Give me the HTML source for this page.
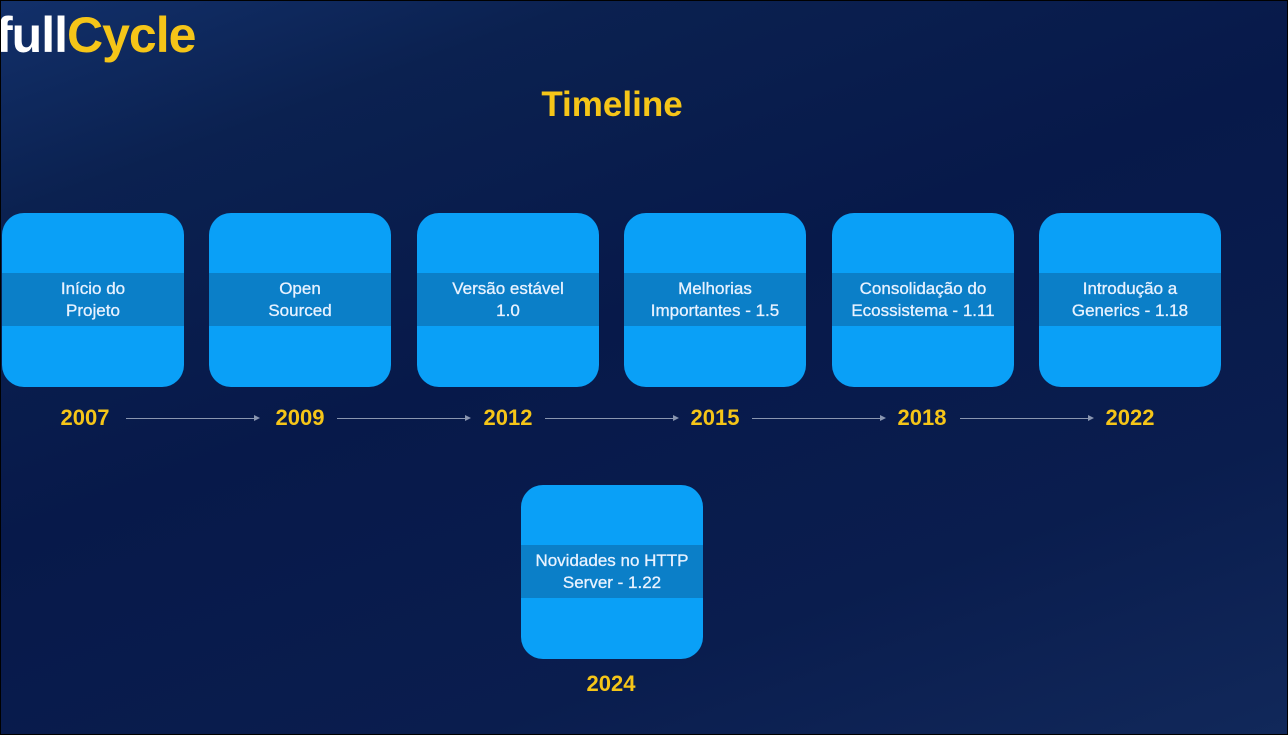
<!DOCTYPE html>
<html><head><meta charset="utf-8">
<style>
html,body{margin:0;padding:0}
body{width:1288px;height:735px;overflow:hidden;position:relative;font-family:"Liberation Sans",sans-serif;
background:linear-gradient(160deg,#12306a 0%,#0b2150 18%,#07194a 45%,#0a1d4e 75%,#11285a 100%);}
.frame{position:absolute;left:0;top:0;width:1286px;height:733px;border:1px solid #000}
.logo{position:absolute;left:-4px;top:6px;font-size:50px;font-weight:bold;color:#fff;letter-spacing:-1px}
.logo span{color:#f5c518}
.title{position:absolute;left:0;width:1224px;top:85px;text-align:center;font-size:35px;font-weight:bold;color:#f5c518}
.box{position:absolute;width:182px;height:174px;border-radius:22px;background:#0aa0f7;overflow:hidden}
.band{position:absolute;left:0;right:0;top:60px;height:53px;background:#0b7fc8;color:#e8f2ff;font-size:17px;line-height:22px;text-align:center;display:flex;align-items:center;justify-content:center;-webkit-text-stroke:0.3px #e8f2ff}
.year{position:absolute;width:120px;text-align:center;font-size:22px;font-weight:bold;color:#f5c518}
.arrow{position:absolute;height:1px;background:#8a96b0}
.arrow:after{content:"";position:absolute;right:-2px;top:-3px;border-left:6px solid #8a96b0;border-top:3.5px solid transparent;border-bottom:3.5px solid transparent}
</style></head><body>
<div class="logo">full<span>Cycle</span></div>
<div class="title">Timeline</div>

<div class="box" style="left:2px;top:213px"><div class="band">Início do<br>Projeto</div></div>
<div class="box" style="left:209px;top:213px"><div class="band">Open<br>Sourced</div></div>
<div class="box" style="left:417px;top:213px"><div class="band">Versão estável<br>1.0</div></div>
<div class="box" style="left:624px;top:213px"><div class="band">Melhorias<br>Importantes - 1.5</div></div>
<div class="box" style="left:832px;top:213px"><div class="band">Consolidação do<br>Ecossistema - 1.11</div></div>
<div class="box" style="left:1039px;top:213px"><div class="band">Introdução a<br>Generics - 1.18</div></div>
<div class="box" style="left:521px;top:485px"><div class="band">Novidades no HTTP<br>Server - 1.22</div></div>

<div class="year" style="left:25px;top:405px">2007</div>
<div class="year" style="left:240px;top:405px">2009</div>
<div class="year" style="left:448px;top:405px">2012</div>
<div class="year" style="left:655px;top:405px">2015</div>
<div class="year" style="left:862px;top:405px">2018</div>
<div class="year" style="left:1070px;top:405px">2022</div>
<div class="year" style="left:551px;top:671px">2024</div>

<div class="arrow" style="left:126px;width:132px;top:418px"></div>
<div class="arrow" style="left:337px;width:132px;top:418px"></div>
<div class="arrow" style="left:545px;width:132px;top:418px"></div>
<div class="arrow" style="left:752px;width:132px;top:418px"></div>
<div class="arrow" style="left:960px;width:132px;top:418px"></div>
<div class="frame"></div>
</body></html>
